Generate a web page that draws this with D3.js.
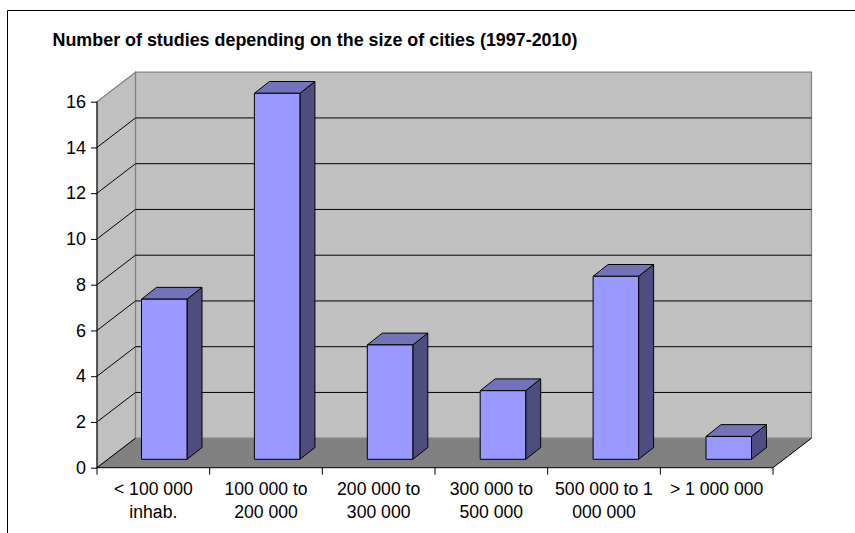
<!DOCTYPE html>
<html>
<head>
<meta charset="utf-8">
<script src="https://cdnjs.cloudflare.com/ajax/libs/d3/7.8.5/d3.min.js"></script>
<style>
html,body{margin:0;padding:0;background:#fff}
svg{display:block}
text{font-family:"Liberation Sans",Arial,sans-serif;fill:#000}
</style>
</head>
<body>
<svg id="chart" width="855" height="533"></svg>
<script>
const categories = ["< 100 000 inhab.", "100 000 to 200 000", "200 000 to 300 000", "300 000 to 500 000", "500 000 to 1 000 000", "> 1 000 000"];
const categoryLines = [["< 100 000", "inhab."], ["100 000 to", "200 000"], ["200 000 to", "300 000"], ["300 000 to", "500 000"], ["500 000 to 1", "000 000"], ["> 1 000 000"]];
const studies = [7, 16, 5, 3, 8, 1];
const yTicks = [0, 2, 4, 6, 8, 10, 12, 14, 16];
const titleText = "Number of studies depending on the size of cities (1997-2010)";

const svg = d3.select("#chart");

// Front plane of the box and the oblique offset of its back wall
const x = d3.scaleBand().domain(categories).range([97, 773]);
const y = d3.scaleLinear().domain([0, 16]).range([467.7, 101.7]);
const depth = {dx: 38.5, dy: -29.5};
// Columns stand partway into the box, so they get their own band positions
const xColumn = d3.scaleBand().domain(categories).range([107.8, 785.2]);
const bar = {lift: 8.4, width: 45.5, dx: 15, dy: -11.8};

const poly = pts => "M" + pts.map(p => p.join(",")).join("L") + "Z";
const L = x.range()[0], R = x.range()[1];
const bx = depth.dx, by = depth.dy;

// Chart frame: only the top and left edges fall within the page
svg.append("path").attr("d", "M7.5,533V10.5H855").attr("fill", "none").attr("stroke", "#000");

svg.append("text").attr("x", 52.5).attr("y", 45.5).attr("font-weight", "bold").attr("font-size", 17.9)
  .text(titleText);

// Walls and floor
const wallStroke = "#808080";
svg.append("path").attr("d", poly([[L + bx, y(16) + by], [R + bx, y(16) + by], [R + bx, y(0) + by], [L + bx, y(0) + by]]))
  .attr("fill", "#c0c0c0").attr("stroke", wallStroke).attr("stroke-width", 1.2);
svg.append("path").attr("d", poly([[L, y(16)], [L + bx, y(16) + by], [L + bx, y(0) + by], [L, y(0)]]))
  .attr("fill", "#c0c0c0").attr("stroke", wallStroke).attr("stroke-width", 1.2);
svg.append("path").attr("d", poly([[L, y(0)], [L + bx, y(0) + by], [R + bx, y(0) + by], [R, y(0)]]))
  .attr("fill", "#808080");

// Gridlines run along the side wall and across the back wall
svg.append("g").selectAll("path").data(yTicks.filter(t => t > 0 && t < 16)).join("path")
  .attr("d", t => `M${L},${y(t)}L${L + bx},${y(t) + by}H${R + bx}`)
  .attr("fill", "none").attr("stroke", "#000").attr("stroke-width", 1);

// Floor front and right edges
svg.append("path").attr("d", `M${L},${y(0)}L${L + bx},${y(0) + by}`).attr("stroke", "#000").attr("fill", "none");
svg.append("path").attr("d", `M${R},${y(0)}L${R + bx},${y(0) + by}`).attr("stroke", "#000").attr("fill", "none");

// Columns: front, top and side faces
const bars = svg.append("g").selectAll("g").data(categories).join("g")
  .attr("stroke", "#000").attr("stroke-width", 1).attr("stroke-linejoin", "round");
const barLeft = c => xColumn(c) + xColumn.bandwidth() / 2 - bar.width / 2;
const barTop = i => y(studies[i]) - bar.lift;
const barBase = y(0) - bar.lift;
bars.append("path").attr("fill", "#4d4d80").attr("d", (c, i) => poly([
  [barLeft(c) + bar.width, barTop(i)], [barLeft(c) + bar.width + bar.dx, barTop(i) + bar.dy],
  [barLeft(c) + bar.width + bar.dx, barBase + bar.dy], [barLeft(c) + bar.width, barBase]]));
bars.append("path").attr("fill", "#7373b9").attr("d", (c, i) => poly([
  [barLeft(c), barTop(i)], [barLeft(c) + bar.dx, barTop(i) + bar.dy],
  [barLeft(c) + bar.width + bar.dx, barTop(i) + bar.dy], [barLeft(c) + bar.width, barTop(i)]]));
bars.append("path").attr("fill", "#9999ff").attr("d", (c, i) => poly([
  [barLeft(c), barTop(i)], [barLeft(c) + bar.width, barTop(i)], [barLeft(c) + bar.width, barBase], [barLeft(c), barBase]]));

// Value axis
const yAxis = d3.axisLeft(y).tickValues(yTicks).tickSize(6).tickPadding(5);
const gy = svg.append("g").attr("transform", `translate(${L},0)`).call(yAxis);
gy.select(".domain").attr("stroke", "#000").attr("d", `M0,${y(16)}V${y(0)}`);
gy.selectAll("text").attr("font-size", 18).attr("font-family", "Liberation Sans").attr("fill", "#000");

// Category axis: ticks sit on the band edges, labels wrap over two lines
const axisG = svg.append("g").attr("transform", `translate(0,${y(0)})`);
axisG.append("path").attr("d", `M${L},0H${R}`).attr("stroke", "#000");
axisG.selectAll("line").data(categories.map(c => x(c)).concat([R])).join("line")
  .attr("x1", d => d).attr("x2", d => d).attr("y1", 0).attr("y2", 7).attr("stroke", "#000");
axisG.selectAll("text").data(categories).join("text")
  .attr("text-anchor", "middle").attr("font-size", 17.6)
  .attr("transform", c => `translate(${x(c) + x.bandwidth() / 2},0)`)
  .selectAll("tspan").data((c, i) => categoryLines[i]).join("tspan")
  .attr("x", 0).attr("y", (d, i) => 27.5 + i * 22.7).text(d => d);
</script>
</body>
</html>
